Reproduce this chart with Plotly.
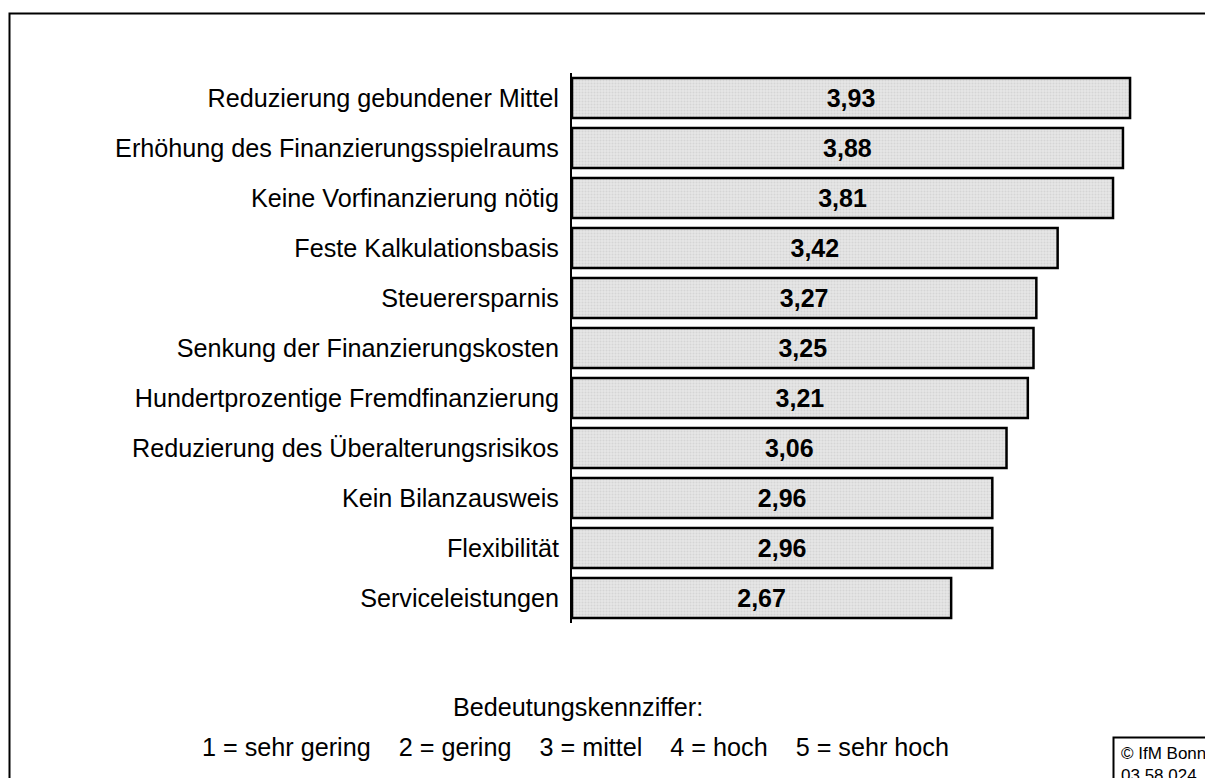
import plotly.graph_objects as go

categories = [
    "Reduzierung gebundener Mittel",
    "Erhöhung des Finanzierungsspielraums",
    "Keine Vorfinanzierung nötig",
    "Feste Kalkulationsbasis",
    "Steuerersparnis",
    "Senkung der Finanzierungskosten",
    "Hundertprozentige Fremdfinanzierung",
    "Reduzierung des Überalterungsrisikos",
    "Kein Bilanzausweis",
    "Flexibilität",
    "Serviceleistungen",
]
values = [3.93, 3.88, 3.81, 3.42, 3.27, 3.25, 3.21, 3.06, 2.96, 2.96, 2.67]
value_labels = [f"{v:.2f}".replace(".", ",") for v in values]

legend_title = "Bedeutungskennziffer:"
legend_items = ["1 = sehr gering", "2 = gering", "3 = mittel", "4 = hoch", "5 = sehr hoch"]
copyright_lines = ["© IfM Bonn", "03 58 024"]

W, H = 1205, 778
PLOT_L, PLOT_R, PLOT_T, PLOT_B = 572, 1140, 73, 623  # screen pixels
L, T = PLOT_L, PLOT_T
R, B = W - PLOT_R, H - PLOT_B
PW, PH = W - L - R, H - T - B


def px(x):
    return (x - L) / PW


def py(y):
    return (H - B - y) / PH


FONT = "Liberation Sans, Arial, sans-serif"
FS = 25.2

fig = go.Figure()
fig.add_trace(go.Bar(
    y=categories,
    x=values,
    orientation="h",
    text=value_labels,
    textposition="inside",
    insidetextanchor="middle",
    textangle=0,
    textfont=dict(family=FONT, size=25, color="black", weight="bold"),
    marker=dict(
        color="#e2e2e2",
        line=dict(color="black", width=2.5),
        pattern=dict(shape=".", bgcolor="#e6e6e6", fgcolor="#c4c4c4", size=3, solidity=0.35),
    ),
    hoverinfo="skip",
))

fig.update_layout(
    width=W, height=H,
    margin=dict(l=L, r=R, t=T, b=B, pad=0),
    paper_bgcolor="white",
    plot_bgcolor="white",
    showlegend=False,
    bargap=0.2,
    font=dict(family=FONT, color="black"),
    xaxis=dict(range=[0, 4], visible=False, fixedrange=True),
    yaxis=dict(
        range=[len(categories) - 0.5, -0.5],
        showline=True, linecolor="black", linewidth=2,
        showgrid=False, zeroline=False,
        ticks="", ticklabelstandoff=6,
        tickfont=dict(family=FONT, size=FS, color="black"),
        fixedrange=True,
    ),
)

# outer frame (runs off the right and bottom edges)
fig.add_shape(type="rect", xref="paper", yref="paper",
              x0=px(9.5), x1=px(1230), y0=py(13.5), y1=py(800),
              line=dict(color="black", width=2), fillcolor="rgba(0,0,0,0)", layer="above")
# copyright box
fig.add_shape(type="rect", xref="paper", yref="paper",
              x0=px(1113.5), x1=px(1240), y0=py(737.5), y1=py(810),
              line=dict(color="black", width=2), fillcolor="white", layer="above")

fig.add_annotation(xref="paper", yref="paper", x=px(578), y=py(707),
                   text=legend_title, showarrow=False, xanchor="center", yanchor="middle",
                   font=dict(family=FONT, size=FS, color="black"))
sep = "\u00a0" * 4
fig.add_annotation(xref="paper", yref="paper", x=px(575), y=py(747),
                   text=sep.join(legend_items), showarrow=False, xanchor="center", yanchor="middle",
                   font=dict(family=FONT, size=FS, color="black"))
fig.add_annotation(xref="paper", yref="paper", x=px(1119), y=py(742),
                   text="<br>".join(copyright_lines), showarrow=False, xanchor="left", yanchor="top",
                   align="left", font=dict(family=FONT, size=17, color="black"))

fig.write_html(
    "out.html",
    config={"displayModeBar": False, "staticPlot": True},
    post_script=(
        "document.body.style.margin='0';"
        "document.body.style.overflow='hidden';"
        "document.documentElement.style.overflow='hidden';"
    ),
)
